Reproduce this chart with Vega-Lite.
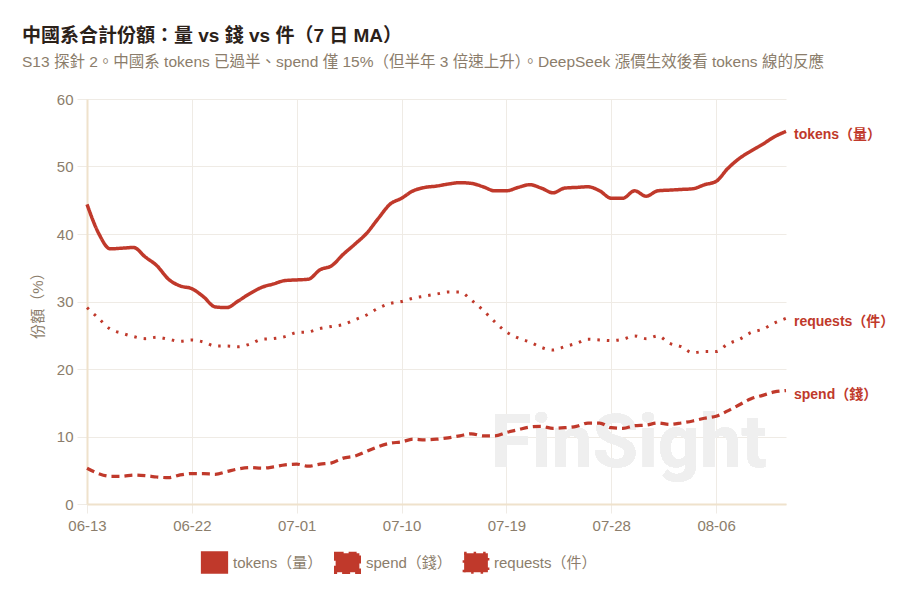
{
  "$schema": "https://vega.github.io/schema/vega-lite/v6.json",
  "description": "China share of tokens, spend and requests (7-day MA)",
  "autosize": {"type": "none"},
  "width": 699,
  "height": 405,
  "padding": {"left": 87, "top": 99, "right": 114, "bottom": 103},
  "background": "#ffffff",
  "title": {
    "text": "中國系合計份額：量 vs 錢 vs 件（7 日 MA）",
    "subtitle": "S13 探針 2。中國系 tokens 已過半、spend 僅 15%（但半年 3 倍速上升）。DeepSeek 漲價生效後看 tokens 線的反應",
    "anchor": "start",
    "frame": "group",
    "dx": -65,
    "offset": 22,
    "font": "Liberation Sans, Noto Sans CJK TC",
    "fontSize": 19,
    "fontWeight": "bold",
    "color": "#2b2119",
    "subtitleFont": "Liberation Sans, Noto Sans CJK TC",
    "subtitleFontSize": 15.5,
    "subtitleColor": "#8b7d6b",
    "subtitlePadding": 9
  },
  "data": {
    "values": [
      {"date": "2025/06/13", "tokens（量）": 44.4, "spend（錢）": 5.3, "requests（件）": 29.1},
      {"date": "2025/06/14", "tokens（量）": 40.1, "spend（錢）": 4.5, "requests（件）": 27.5},
      {"date": "2025/06/15", "tokens（量）": 37.8, "spend（錢）": 4.1, "requests（件）": 25.9},
      {"date": "2025/06/16", "tokens（量）": 37.9, "spend（錢）": 4.1, "requests（件）": 25.3},
      {"date": "2025/06/17", "tokens（量）": 38.0, "spend（錢）": 4.3, "requests（件）": 24.8},
      {"date": "2025/06/18", "tokens（量）": 36.6, "spend（錢）": 4.2, "requests（件）": 24.5},
      {"date": "2025/06/19", "tokens（量）": 35.3, "spend（錢）": 4.0, "requests（件）": 24.7},
      {"date": "2025/06/20", "tokens（量）": 33.3, "spend（錢）": 3.9, "requests（件）": 24.4},
      {"date": "2025/06/21", "tokens（量）": 32.3, "spend（錢）": 4.3, "requests（件）": 24.1},
      {"date": "2025/06/22", "tokens（量）": 31.9, "spend（錢）": 4.5, "requests（件）": 24.3},
      {"date": "2025/06/23", "tokens（量）": 30.7, "spend（錢）": 4.5, "requests（件）": 24.0},
      {"date": "2025/06/24", "tokens（量）": 29.2, "spend（錢）": 4.4, "requests（件）": 23.4},
      {"date": "2025/06/25", "tokens（量）": 29.1, "spend（錢）": 4.8, "requests（件）": 23.4},
      {"date": "2025/06/26", "tokens（量）": 30.1, "spend（錢）": 5.2, "requests（件）": 23.3},
      {"date": "2025/06/27", "tokens（量）": 31.2, "spend（錢）": 5.4, "requests（件）": 23.7},
      {"date": "2025/06/28", "tokens（量）": 32.1, "spend（錢）": 5.3, "requests（件）": 24.4},
      {"date": "2025/06/29", "tokens（量）": 32.6, "spend（錢）": 5.5, "requests（件）": 24.5},
      {"date": "2025/06/30", "tokens（量）": 33.1, "spend（錢）": 5.8, "requests（件）": 24.8},
      {"date": "2025/07/01", "tokens（量）": 33.2, "spend（錢）": 5.9, "requests（件）": 25.4},
      {"date": "2025/07/02", "tokens（量）": 33.3, "spend（錢）": 5.6, "requests（件）": 25.5},
      {"date": "2025/07/03", "tokens（量）": 34.7, "spend（錢）": 5.9, "requests（件）": 26.0},
      {"date": "2025/07/04", "tokens（量）": 35.3, "spend（錢）": 6.1, "requests（件）": 26.3},
      {"date": "2025/07/05", "tokens（量）": 37.0, "spend（錢）": 6.8, "requests（件）": 26.6},
      {"date": "2025/07/06", "tokens（量）": 38.5, "spend（錢）": 7.1, "requests（件）": 27.3},
      {"date": "2025/07/07", "tokens（量）": 40.1, "spend（錢）": 7.8, "requests（件）": 28.0},
      {"date": "2025/07/08", "tokens（量）": 42.3, "spend（錢）": 8.5, "requests（件）": 29.0},
      {"date": "2025/07/09", "tokens（量）": 44.4, "spend（錢）": 9.0, "requests（件）": 29.7},
      {"date": "2025/07/10", "tokens（量）": 45.3, "spend（錢）": 9.2, "requests（件）": 30.0},
      {"date": "2025/07/11", "tokens（量）": 46.4, "spend（錢）": 9.6, "requests（件）": 30.5},
      {"date": "2025/07/12", "tokens（量）": 46.9, "spend（錢）": 9.5, "requests（件）": 30.8},
      {"date": "2025/07/13", "tokens（量）": 47.1, "spend（錢）": 9.6, "requests（件）": 31.1},
      {"date": "2025/07/14", "tokens（量）": 47.4, "spend（錢）": 9.8, "requests（件）": 31.4},
      {"date": "2025/07/15", "tokens（量）": 47.6, "spend（錢）": 10.1, "requests（件）": 31.4},
      {"date": "2025/07/16", "tokens（量）": 47.5, "spend（錢）": 10.4, "requests（件）": 30.2},
      {"date": "2025/07/17", "tokens（量）": 47.0, "spend（錢）": 10.1, "requests（件）": 28.7},
      {"date": "2025/07/18", "tokens（量）": 46.4, "spend（錢）": 10.1, "requests（件）": 27.0},
      {"date": "2025/07/19", "tokens（量）": 46.4, "spend（錢）": 10.6, "requests（件）": 25.5},
      {"date": "2025/07/20", "tokens（量）": 46.9, "spend（錢）": 11.0, "requests（件）": 24.6},
      {"date": "2025/07/21", "tokens（量）": 47.3, "spend（錢）": 11.4, "requests（件）": 24.0},
      {"date": "2025/07/22", "tokens（量）": 46.8, "spend（錢）": 11.5, "requests（件）": 23.2},
      {"date": "2025/07/23", "tokens（量）": 46.1, "spend（錢）": 11.2, "requests（件）": 22.8},
      {"date": "2025/07/24", "tokens（量）": 46.8, "spend（錢）": 11.3, "requests（件）": 23.3},
      {"date": "2025/07/25", "tokens（量）": 46.9, "spend（錢）": 11.5, "requests（件）": 23.8},
      {"date": "2025/07/26", "tokens（量）": 47.0, "spend（錢）": 12.0, "requests（件）": 24.4},
      {"date": "2025/07/27", "tokens（量）": 46.4, "spend（錢）": 12.0, "requests（件）": 24.3},
      {"date": "2025/07/28", "tokens（量）": 45.3, "spend（錢）": 11.3, "requests（件）": 24.2},
      {"date": "2025/07/29", "tokens（量）": 45.3, "spend（錢）": 11.2, "requests（件）": 24.4},
      {"date": "2025/07/30", "tokens（量）": 46.4, "spend（錢）": 11.6, "requests（件）": 24.9},
      {"date": "2025/07/31", "tokens（量）": 45.6, "spend（錢）": 11.7, "requests（件）": 24.5},
      {"date": "2025/08/01", "tokens（量）": 46.4, "spend（錢）": 12.0, "requests（件）": 24.9},
      {"date": "2025/08/02", "tokens（量）": 46.5, "spend（錢）": 11.8, "requests（件）": 23.8},
      {"date": "2025/08/03", "tokens（量）": 46.6, "spend（錢）": 12.0, "requests（件）": 23.3},
      {"date": "2025/08/04", "tokens（量）": 46.7, "spend（錢）": 12.3, "requests（件）": 22.4},
      {"date": "2025/08/05", "tokens（量）": 47.3, "spend（錢）": 12.7, "requests（件）": 22.6},
      {"date": "2025/08/06", "tokens（量）": 47.8, "spend（錢）": 13.0, "requests（件）": 22.6},
      {"date": "2025/08/07", "tokens（量）": 49.7, "spend（錢）": 13.8, "requests（件）": 23.7},
      {"date": "2025/08/08", "tokens（量）": 51.2, "spend（錢）": 14.7, "requests（件）": 24.4},
      {"date": "2025/08/09", "tokens（量）": 52.3, "spend（錢）": 15.6, "requests（件）": 25.4},
      {"date": "2025/08/10", "tokens（量）": 53.3, "spend（錢）": 16.1, "requests（件）": 25.9},
      {"date": "2025/08/11", "tokens（量）": 54.4, "spend（錢）": 16.6, "requests（件）": 26.8},
      {"date": "2025/08/12", "tokens（量）": 55.2, "spend（錢）": 16.8, "requests（件）": 27.5}
    ],
    "format": {"parse": {"date": "date"}}
  },
  "transform": [
    {"fold": ["tokens（量）", "spend（錢）", "requests（件）"], "as": ["series", "share"]}
  ],
  "encoding": {
    "x": {
      "field": "date",
      "type": "temporal",
      "scale": {
        "domain": [{"year": 2025, "month": 6, "date": 13}, {"year": 2025, "month": 8, "date": 12}],
        "nice": false
      },
      "axis": {
        "title": null,
        "format": "%m-%d",
        "values": [
          {"year": 2025, "month": 6, "date": 13},
          {"year": 2025, "month": 6, "date": 22},
          {"year": 2025, "month": 7, "date": 1},
          {"year": 2025, "month": 7, "date": 10},
          {"year": 2025, "month": 7, "date": 19},
          {"year": 2025, "month": 7, "date": 28},
          {"year": 2025, "month": 8, "date": 6}
        ],
        "tickSize": 9,
        "labelPadding": 5,
        "labelFlush": false,
        "labelOverlap": false
      }
    },
    "y": {
      "field": "share",
      "type": "quantitative",
      "scale": {"domain": [0, 60], "nice": false},
      "axis": {
        "title": "份額（%）",
        "values": [0, 10, 20, 30, 40, 50, 60],
        "tickSize": 10,
        "labelPadding": 4,
        "titlePadding": 11,
        "titleFontSize": 15,
        "titleFontWeight": "normal",
        "titleColor": "#8b7d6b"
      }
    }
  },
  "layer": [
    {
      "mark": {
        "type": "text",
        "text": "FinSight",
        "font": "Roboto",
        "fontSize": 74,
        "fontWeight": "bold",
        "color": "#efefef",
        "align": "center",
        "baseline": "alphabetic"
      },
      "encoding": {
        "x": {"datum": {"year": 2025, "month": 7, "date": 29, "hours": 12}, "type": "temporal"},
        "y": {"datum": 5.5, "type": "quantitative"}
      }
    },
    {
      "mark": {"type": "line", "interpolate": "monotone", "strokeCap": "butt"},
      "encoding": {
        "color": {
          "field": "series",
          "type": "nominal",
          "scale": {
            "domain": ["tokens（量）", "spend（錢）", "requests（件）"],
            "range": ["#c0392b", "#c0392b", "#c0392b"]
          },
          "legend": {
            "title": null,
            "orient": "none",
            "legendX": 116,
            "legendY": 452,
            "direction": "horizontal",
            "symbolType": "M-1.25,-1H1.25V1H-1.25Z",
            "symbolSize": 361,
            "symbolStrokeWidth": 2,
            "labelFontSize": 15,
            "labelColor": "#8b7d6b",
            "labelOffset": 7,
            "columnPadding": 6,
            "encode": {
              "symbols": {"update": {"fill": {"value": "#c0392b"}, "fillOpacity": {"value": 1}}}
            }
          }
        },
        "strokeDash": {
          "field": "series",
          "type": "nominal",
          "scale": {
            "domain": ["tokens（量）", "spend（錢）", "requests（件）"],
            "range": [[1, 0], [8, 5], [2.5, 7]]
          },
          "legend": {
            "title": null,
            "orient": "none",
            "legendX": 116,
            "legendY": 452,
            "direction": "horizontal",
            "symbolType": "M-1.25,-1H1.25V1H-1.25Z",
            "symbolSize": 361,
            "symbolStrokeWidth": 2,
            "labelFontSize": 15,
            "labelColor": "#8b7d6b",
            "labelOffset": 7,
            "columnPadding": 6,
            "encode": {
              "symbols": {"update": {"fill": {"value": "#c0392b"}, "fillOpacity": {"value": 1}}}
            }
          }
        },
        "strokeWidth": {
          "field": "series",
          "type": "nominal",
          "scale": {
            "domain": ["tokens（量）", "spend（錢）", "requests（件）"],
            "range": [3.5, 3, 2.8]
          },
          "legend": null
        }
      }
    },
    {
      "transform": [
        {"filter": "time(datum.date) == time(datetime(2025, 7, 12))"}
      ],
      "mark": {
        "type": "text",
        "align": "left",
        "baseline": "middle",
        "dx": 8,
        "dy": 4,
        "fontSize": 14,
        "fontWeight": "bold",
        "color": "#c0392b"
      },
      "encoding": {
        "text": {"field": "series"}
      }
    }
  ],
  "config": {
    "font": "Liberation Sans, Noto Sans CJK TC",
    "view": {"stroke": null},
    "axis": {
      "labelFont": "Liberation Sans, Noto Sans CJK TC",
      "titleFont": "Liberation Sans, Noto Sans CJK TC",
      "labelFontSize": 15,
      "labelColor": "#8b7d6b",
      "gridColor": "#efebe5",
      "gridWidth": 1,
      "tickColor": "#efebe5",
      "domainColor": "#efe2cc",
      "domainWidth": 2
    },
    "legend": {
      "labelFont": "Liberation Sans, Noto Sans CJK TC"
    }
  }
}
